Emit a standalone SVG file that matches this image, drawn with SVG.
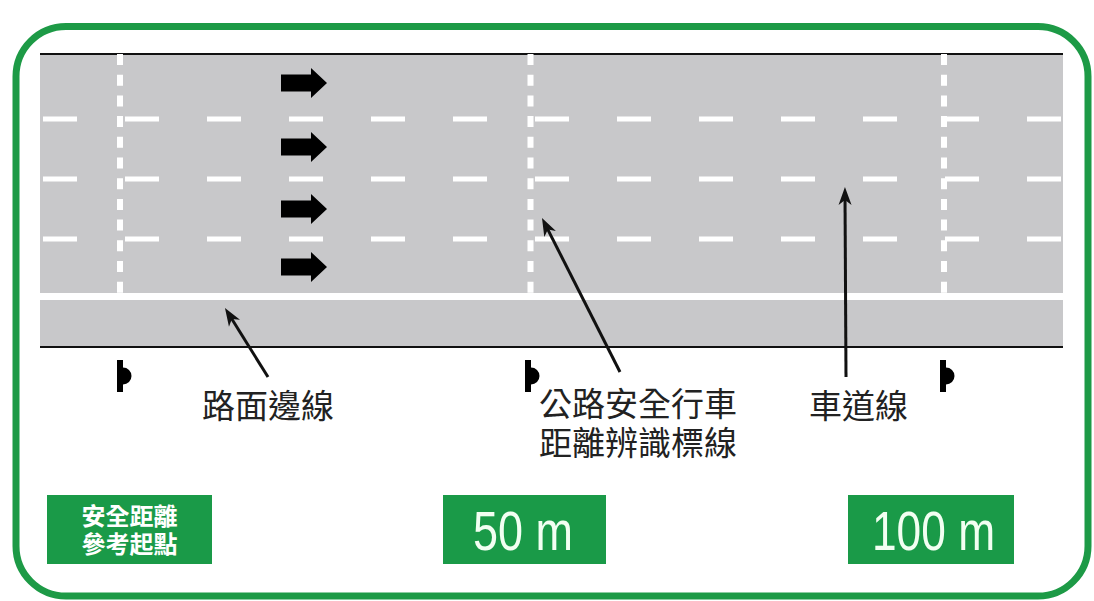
<svg xmlns="http://www.w3.org/2000/svg" width="1094" height="601" viewBox="0 0 1094 601">
<style>
.cjk{font-family:"Noto Sans CJK TC","Noto Sans CJK SC",sans-serif;fill:#222;font-size:33px}
.boxtxt{font-family:"Noto Sans CJK TC","Noto Sans CJK SC",sans-serif;fill:#fff;font-size:24px;font-weight:bold;text-anchor:middle}
.num{font-family:"Liberation Sans",Arial,sans-serif;fill:#f2fff2;font-size:55px}
.gbox{fill:#1a9a48}
.lane{stroke:#fff;stroke-width:5;stroke-dasharray:34 48;fill:none}
.vdash{stroke:#fff;stroke-width:6;stroke-dasharray:11 9.7;fill:none}
.ptr{stroke:#111;stroke-width:3;fill:none;marker-end:url(#ah)}
.blk{fill:#000}
</style>
<defs>
<marker id="ah" viewBox="-26 -8 28 16" refX="-8" refY="0" markerWidth="28" markerHeight="16" markerUnits="userSpaceOnUse" orient="auto">
<path d="M0,0 L-18,-6.5 L-13,0 L-18,6.5 Z" fill="#111"/>
</marker>
</defs>
<rect width="1094" height="601" fill="#fff"/>
<rect x="16" y="26.5" width="1072" height="569.5" rx="50" ry="50" fill="none" stroke="#1d9a46" stroke-width="7"/>
<g id="road">
<rect x="40" y="54" width="1023" height="293" fill="#c8c8ca"/>
<line x1="40" y1="54" x2="1063" y2="54" stroke="#111" stroke-width="2"/>
<line x1="40" y1="347" x2="1063" y2="347" stroke="#111" stroke-width="2"/>
<rect x="40" y="293" width="1023" height="7" fill="#fff"/>
<line class="lane" x1="43" y1="119" x2="1063" y2="119"/>
<line class="lane" x1="43" y1="179" x2="1063" y2="179"/>
<line class="lane" x1="43" y1="239" x2="1063" y2="239"/>
<line class="vdash" x1="120" y1="54" x2="120" y2="293"/>
<line class="vdash" x1="530.5" y1="54" x2="530.5" y2="293"/>
<line class="vdash" x1="944" y1="54" x2="944" y2="293"/>
</g>
<g id="flow-arrows">
<polygon class="blk" points="281,74.5 311,74.5 311,68 327,83 311,98 311,91.5 281,91.5"/>
<polygon class="blk" points="281,138.5 311,138.5 311,132 327,147 311,162 311,155.5 281,155.5"/>
<polygon class="blk" points="281,200.5 311,200.5 311,194 327,209 311,224 311,217.5 281,217.5"/>
<polygon class="blk" points="281,258.5 311,258.5 311,252 327,267 311,282 311,275.5 281,275.5"/>
</g>
<g id="markers">
<path class="blk" d="M117,360 H123 V367.5 A8.5,8.5 0 0 1 123,384.5 V392 H117 Z"/>
<path class="blk" d="M525,360 H531 V367.5 A8.5,8.5 0 0 1 531,384.5 V392 H525 Z"/>
<path class="blk" d="M940,360 H946 V367.5 A8.5,8.5 0 0 1 946,384.5 V392 H940 Z"/>
</g>
<g id="connectors">
<line class="ptr" x1="268" y1="377" x2="229.2" y2="314.8"/>
<line class="ptr" x1="620" y1="372" x2="545.6" y2="225.1"/>
<line class="ptr" x1="846" y1="377" x2="845" y2="195"/>
</g>
<g id="label-edge">
<text class="cjk" x="202" y="418">路面邊線</text>
</g>
<g id="label-distance">
<text class="cjk"><tspan x="539" y="416">公路安全行車</tspan><tspan x="539" y="455">距離辨識標線</tspan></text>
</g>
<g id="label-lane">
<text class="cjk" x="809" y="418">車道線</text>
</g>
<g id="box-start">
<rect class="gbox" x="47" y="495" width="165" height="69"/>
<text class="boxtxt"><tspan x="129.5" y="525">安全距離</tspan><tspan x="129.5" y="553">參考起點</tspan></text>
</g>
<g id="box-50">
<rect class="gbox" x="443" y="495" width="163" height="69"/>
<text class="num" x="473" y="550" textLength="100" lengthAdjust="spacingAndGlyphs">50 m</text>
</g>
<g id="box-100">
<rect class="gbox" x="848" y="495" width="166" height="69"/>
<text class="num" x="872" y="550" textLength="123" lengthAdjust="spacingAndGlyphs">100 m</text>
</g>
</svg>
